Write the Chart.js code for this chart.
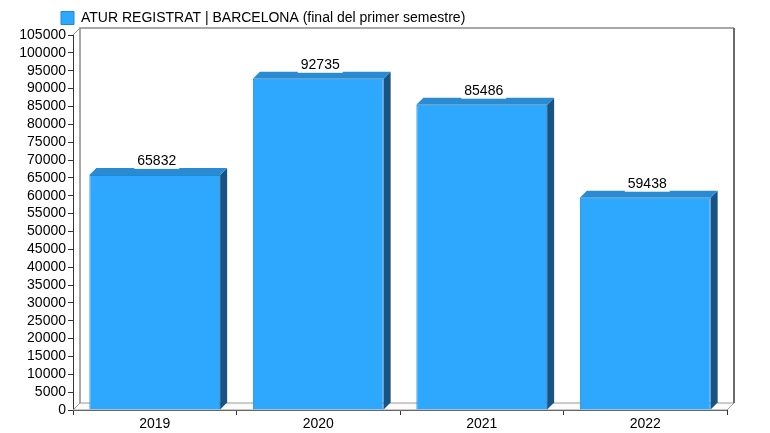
<!DOCTYPE html>
<html>
<head>
<meta charset="utf-8">
<script src="https://cdn.jsdelivr.net/npm/chart.js@4.4.0/dist/chart.umd.min.js"></script>
<style>
  html, body { margin: 0; padding: 0; background: #fff; }
  #wrap { width: 770px; height: 433px; }
</style>
</head>
<body>
<div id="wrap"><canvas id="c"></canvas></div>
<script>
'use strict';

// ─── Data ────────────────────────────────────────────────────────────────────
const years       = ['2019', '2020', '2021', '2022'];
const aturValues  = [65832, 92735, 85486, 59438];
const seriesLabel = 'ATUR REGISTRAT | BARCELONA (final del primer semestre)';
const yMin = 0, yMax = 105000, yStep = 5000;

// ─── Style ───────────────────────────────────────────────────────────────────
const DEPTH = 7;
const FRONT = '#2ea8ff';
const EDGE  = '#1d8ad6';
const TOP   = '#2a8bd3';
const SIDE  = '#185483';
const FONT  = '"Liberation Sans", Arial, sans-serif';

function poly(ctx, pts) {
  ctx.beginPath();
  ctx.moveTo(pts[0][0], pts[0][1]);
  for (let i = 1; i < pts.length; i++) ctx.lineTo(pts[i][0], pts[i][1]);
  ctx.closePath();
}

// ─── Legend sits left-aligned over the plot, not at the canvas edge ──────────
const legendShift = {
  id: 'legendShift',
  beforeDraw(chart) {
    if (chart.legend) chart.legend.left = 51;
  },
};

// ─── 3D box: back wall, floor, bar sides/tops, value labels ──────────────────
const depthPlugin = {
  id: 'depth',
  beforeDatasetsDraw(chart) {
    const { ctx, chartArea: a } = chart;
    const d = DEPTH;
    ctx.save();
    // floor
    poly(ctx, [[a.left, a.bottom], [a.left + d, a.bottom - d], [a.right + d, a.bottom - d], [a.right, a.bottom]]);
    ctx.fillStyle = '#fbfbfb';
    ctx.fill();
    ctx.strokeStyle = '#9a9a9a';
    ctx.lineWidth = 1;
    ctx.stroke();
    // back wall
    ctx.strokeStyle = '#8c8c8c';
    ctx.lineWidth = 1.5;
    ctx.beginPath();
    ctx.moveTo(a.left + d, a.bottom - d);
    ctx.lineTo(a.left + d, a.top - d);
    ctx.lineTo(a.right + d, a.top - d);
    ctx.stroke();
    ctx.strokeStyle = '#6a6a6a';
    ctx.lineWidth = 2;
    ctx.beginPath();
    ctx.moveTo(a.right + d, a.top - d);
    ctx.lineTo(a.right + d, a.bottom - d);
    ctx.stroke();
    // left wall diagonal
    ctx.strokeStyle = '#8c8c8c';
    ctx.lineWidth = 1;
    ctx.beginPath();
    ctx.moveTo(a.left, a.top);
    ctx.lineTo(a.left + d, a.top - d);
    ctx.stroke();
    ctx.restore();
  },
  afterDatasetsDraw(chart) {
    const { ctx } = chart;
    const d = DEPTH;
    const meta = chart.getDatasetMeta(0);
    ctx.save();
    meta.data.forEach((bar, i) => {
      const half = bar.width / 2;
      const l = bar.x - half, r = bar.x + half, t = bar.y, b = bar.base;
      poly(ctx, [[r, t], [r + d, t - d], [r + d, b - d], [r, b]]);
      ctx.fillStyle = SIDE;
      ctx.fill();
      poly(ctx, [[l, t], [l + d, t - d], [r + d, t - d], [r, t]]);
      ctx.fillStyle = TOP;
      ctx.fill();

      const txt = String(aturValues[i]);
      ctx.font = '14px ' + FONT;
      const w = ctx.measureText(txt).width;
      const cx = bar.x + 2, cy = t - 14;
      ctx.fillStyle = '#fff';
      ctx.fillRect(cx - w / 2 - 3, cy - 8, w + 6, 16);
      ctx.fillStyle = '#000';
      ctx.textAlign = 'center';
      ctx.textBaseline = 'middle';
      ctx.fillText(txt, cx, cy);
    });
    ctx.restore();
  },
};

// ─── Chart ───────────────────────────────────────────────────────────────────
new Chart(document.getElementById('c'), {
  type: 'bar',
  data: {
    labels: years,
    datasets: [{
      label:              seriesLabel,
      data:               aturValues,
      backgroundColor:    FRONT,
      borderColor:        EDGE,
      borderWidth:        1,
      categoryPercentage: 0.8,
      barPercentage:      1,
    }],
  },
  options: {
    animation:           false,
    responsive:          true,
    maintainAspectRatio: false,
    devicePixelRatio:    1,
    layout: { padding: { left: 0, right: 43, top: 1, bottom: 0 } },
    plugins: {
      legend: {
        position: 'top',
        align:    'start',
        labels: {
          boxWidth:  13,
          boxHeight: 13,
          padding:   10,
          color:     '#000',
          font:      { family: FONT, size: 14 },
        },
      },
      tooltip: { enabled: false },
    },
    scales: {
      x: {
        z: 1,
        offset: true,
        grid:   { offset: true, drawOnChartArea: false, tickLength: 5, color: '#333' },
        border: { color: '#333', width: 1 },
        ticks:  { color: '#000', padding: 1, font: { family: FONT, size: 14 } },
        afterFit: (s) => { s.height = 23; },
      },
      y: {
        min: yMin,
        max: yMax,
        grid:   { drawOnChartArea: false, tickLength: 5, color: '#333' },
        border: { color: '#333', width: 1 },
        ticks:  {
          stepSize: yStep,
          autoSkip: false,
          color:    '#000',
          padding:  2,
          font:     { family: FONT, size: 14 },
          callback: (v) => String(v),
        },
        afterFit: (s) => { s.width = 73; },
      },
    },
  },
  plugins: [depthPlugin, legendShift],
});
</script>
</body>
</html>
